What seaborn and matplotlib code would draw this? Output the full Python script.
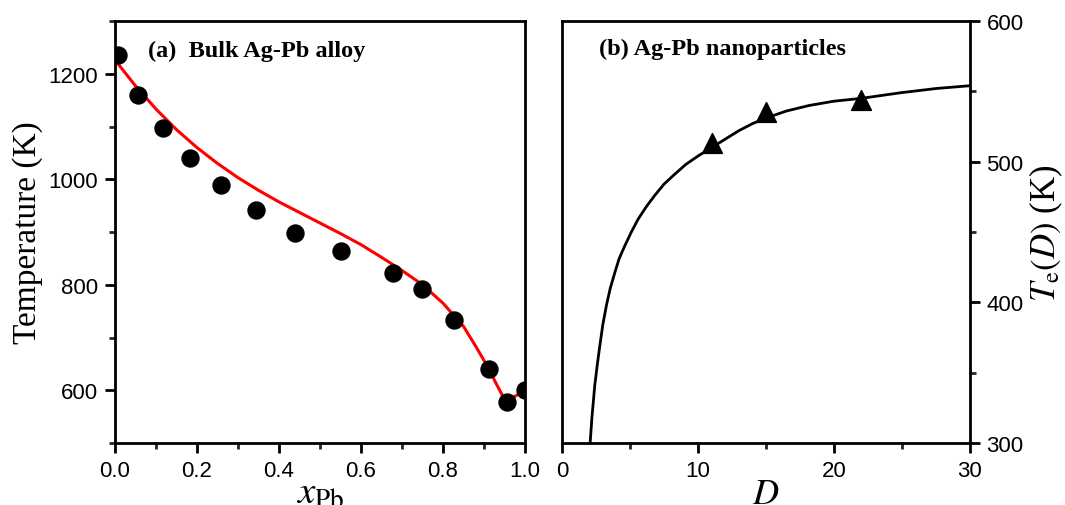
import numpy as np
import matplotlib
matplotlib.use('Agg')
import matplotlib.pyplot as plt
from matplotlib.ticker import MultipleLocator
import pandas as pd
import seaborn as sns

# (a) bulk Ag-Pb alloy: measured liquidus points and calculated curve
x_pts = [0.008, 0.057, 0.116, 0.182, 0.258, 0.343, 0.440, 0.551, 0.677, 0.748, 0.826, 0.911, 0.956, 1.0]
T_pts = [1236, 1160, 1098, 1041, 990, 942, 898, 864, 823, 792, 734, 641, 578, 601]

x_fit = [0.0, 0.05, 0.10, 0.15, 0.20, 0.25, 0.30, 0.35, 0.40, 0.45, 0.50, 0.55, 0.60,
         0.65, 0.70, 0.75, 0.80, 0.85, 0.88, 0.91, 0.93, 0.945, 0.955, 0.97, 0.985, 1.0]
T_fit = [1226, 1177, 1133, 1094, 1060, 1030, 1003, 979, 957, 937, 917, 897, 876,
         852, 827, 800, 765, 721, 683, 643, 612, 590, 579, 586, 593, 600]

# (b) Ag-Pb nanoparticles: eutectic temperature vs size
D_pts = [11, 15, 22]
Te_pts = [513, 535, 544]

D_fit = [2.07, 2.2, 2.41, 2.6, 2.78, 3.0, 3.27, 3.55, 3.88, 4.2, 4.61, 5.1, 5.59, 6.2,
         6.82, 7.5, 8.28, 9.1, 10.0, 11.0, 12.0, 13.0, 14.0, 15.0, 16.5, 18.2, 20.0,
         22.0, 24.9, 27.5, 30.0]
Te_fit = [300, 318, 341, 356, 369, 384, 398, 410, 421, 431, 440, 450, 459, 468,
          476, 484, 491, 498, 504, 510, 516, 522, 527, 531, 536, 540, 543,
          545, 549, 552, 554]

sns.set_theme(style='ticks')
plt.rcParams['font.family'] = ['Liberation Sans', 'DejaVu Sans']
plt.rcParams['mathtext.fontset'] = 'stix'
plt.rcParams['axes.linewidth'] = 2.0
plt.rcParams['text.color'] = 'black'
plt.rcParams['axes.labelcolor'] = 'black'

fig = plt.figure(figsize=(10.65, 5.06), dpi=100)
ax1 = fig.add_axes([0.108, 0.1225, 0.385, 0.834])
ax2 = fig.add_axes([0.5277, 0.1225, 0.383, 0.834])

df_fit = pd.DataFrame({'x': x_fit, 'T': T_fit})
df_pts = pd.DataFrame({'x': x_pts, 'T': T_pts})
sns.lineplot(data=df_fit, x='x', y='T', ax=ax1, color='#ff0000', linewidth=2.2,
             estimator=None, sort=False)
sns.scatterplot(data=df_pts, x='x', y='T', ax=ax1, color='black', s=150,
                edgecolor='black', zorder=3)

df_fit2 = pd.DataFrame({'D': D_fit, 'T': Te_fit})
df_pts2 = pd.DataFrame({'D': D_pts, 'T': Te_pts})
sns.lineplot(data=df_fit2, x='D', y='T', ax=ax2, color='black', linewidth=2.0,
             estimator=None, sort=False)
sns.scatterplot(data=df_pts2, x='D', y='T', ax=ax2, color='black', marker='^',
                s=200, edgecolor='black', zorder=3)

serif = ['Liberation Serif', 'DejaVu Serif']

ax1.set_xlim(0, 1.0)
ax1.set_ylim(500, 1300)
ax1.xaxis.set_major_locator(MultipleLocator(0.2))
ax1.xaxis.set_minor_locator(MultipleLocator(0.1))
ax1.yaxis.set_major_locator(MultipleLocator(200))
ax1.yaxis.set_minor_locator(MultipleLocator(100))
ax1.set_xlabel(r'$x_{\rm Pb}$', fontsize=28, labelpad=-4, color='black')
ax1.set_ylabel('Temperature (K)', fontsize=24, family=serif, labelpad=4, color='black')
ax1.text(0.08, 0.93, '(a)  Bulk Ag-Pb alloy', transform=ax1.transAxes,
         fontsize=17.5, fontweight='bold', family=serif, va='center', color='black')

ax2.set_xlim(0, 30)
ax2.set_ylim(300, 600)
ax2.xaxis.set_major_locator(MultipleLocator(10))
ax2.xaxis.set_minor_locator(MultipleLocator(5))
ax2.yaxis.set_major_locator(MultipleLocator(100))
ax2.yaxis.set_minor_locator(MultipleLocator(50))
ax2.yaxis.tick_right()
ax2.yaxis.set_label_position('right')
ax2.set_xlabel(r'$D$', fontsize=26, labelpad=-3.5, color='black')
ax2.set_ylabel(r'$T_{\rm e}(D)$ (K)', fontsize=25, family=serif, labelpad=3, color='black')
ax2.text(0.09, 0.935, '(b) Ag-Pb nanoparticles', transform=ax2.transAxes,
         fontsize=17.5, fontweight='bold', family=serif, va='center', color='black')

for ax in (ax1, ax2):
    for sp in ax.spines.values():
        sp.set_visible(True)
        sp.set_linewidth(2.0)
        sp.set_color('black')
    ax.tick_params(which='major', length=7, width=2.0, direction='out',
                   labelsize=16, colors='black', pad=5)
    ax.tick_params(which='minor', length=4, width=2.0, direction='out')
    ax.grid(False)

fig.savefig('out.png', dpi=100, facecolor='white')
